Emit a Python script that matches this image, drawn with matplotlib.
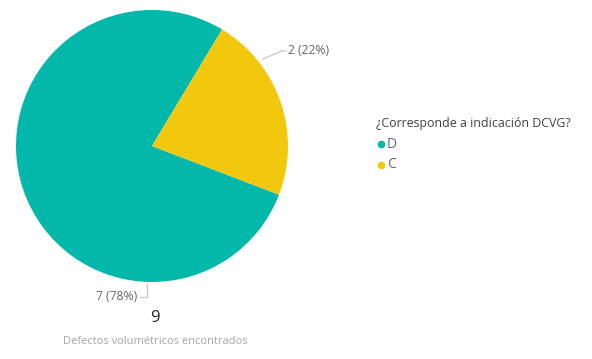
import matplotlib.pyplot as plt

plt.rcParams['font.family'] = ['Open Sans', 'DejaVu Sans']

categories = ["D", "C"]
values = [7, 2]
colors = ["#01B8AA", "#F2C80F"]
legend_title = "¿Corresponde a indicación DCVG?"
total_label = "Defectos volumétricos encontrados"

total = sum(values)
W, H = 592, 359
fig = plt.figure(figsize=(W / 100, H / 100), dpi=100)

# pie axes: centre (152,146) px, radius 136 px
cx, cy, r = 152, 146, 136
ax = fig.add_axes([(cx - r) / W, (H - cy - r) / H, 2 * r / W, 2 * r / H])
wedges, _ = ax.pie(values, colors=colors, startangle=-21, counterclock=False,
                   radius=1, wedgeprops=dict(linewidth=0))
ax.set_xlim(-1, 1)
ax.set_ylim(-1, 1)
ax.axis("off")

# data labels with leader lines
pct = [v / total * 100 for v in values]
lab_d = f"{values[0]} ({pct[0]:.0f}%)"
lab_c = f"{values[1]} ({pct[1]:.0f}%)"
line_col = "#c8c8c8"
ax.plot([0.816, 0.956, 0.985], [0.640, 0.699, 0.699], color=line_col, lw=0.9, clip_on=False)
ax.text(1.0, 0.699, lab_c, ha="left", va="center", fontsize=8.7, color="#666666")
ax.plot([-0.037, -0.037, -0.088], [-1.005, -1.11, -1.11], color=line_col, lw=0.9, clip_on=False)
ax.text(-0.11, -1.11, lab_d, ha="right", va="center", fontsize=8.7, color="#666666")

# overlay in pixel coords for legend and card
ov = fig.add_axes([0, 0, 1, 1])
ov.set_xlim(0, W)
ov.set_ylim(H, 0)
ov.axis("off")
ov.patch.set_alpha(0)

ov.text(376, 123, legend_title, ha="left", va="center", fontsize=8.9, color="#404040")
for i, (cat, col) in enumerate(zip(categories, colors)):
    y = 144 + i * 21
    ov.plot(381, y, marker="o", markersize=5.5, color=col, markeredgewidth=0)
    ov.text(387, y, cat, ha="left", va="center", fontsize=10, color="#666666")

ov.text(155, 318, str(total), ha="center", va="center", fontsize=12, color="#252423")
ov.text(155, 342, total_label, ha="center", va="center", fontsize=8, color="#a6a6a6")

fig.savefig("out.png", dpi=100)
